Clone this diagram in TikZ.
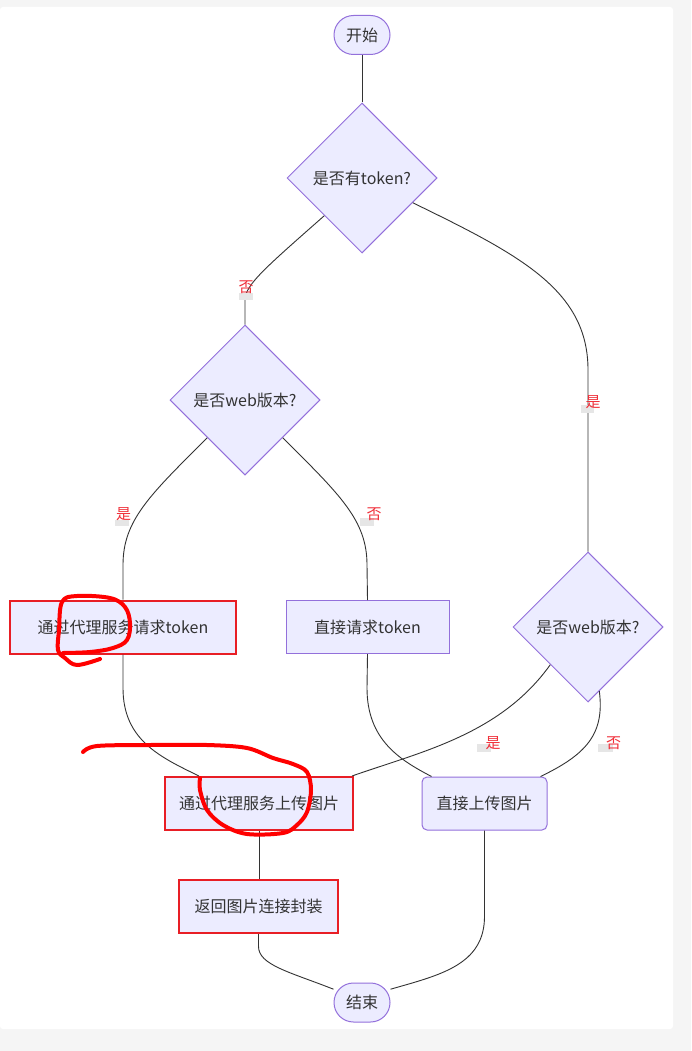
\documentclass[tikz,border=0pt]{standalone}
\usepackage{fontspec}
\setmainfont{Noto Sans CJK SC}
\usetikzlibrary{shapes.geometric}
\definecolor{nfill}{HTML}{ECECFF}
\definecolor{nstroke}{HTML}{9370DB}
\definecolor{redb}{HTML}{E81E25}
\definecolor{txt}{HTML}{333333}
\definecolor{edgec}{HTML}{333333}
\definecolor{lblbg}{HTML}{E6E6E6}
\definecolor{pagebg}{HTML}{F5F5F5}
\definecolor{lblred}{HTML}{F0303A}
\begin{document}
\begin{tikzpicture}[x=1pt,y=-1pt,
  base/.style={fill=nfill, draw=nstroke, line width=1pt, text=txt, font=\fontsize{16}{19}\selectfont, inner sep=0pt},
  term/.style={base, rectangle, rounded corners=19.5pt, minimum width=56pt, minimum height=39pt},
  dec/.style={base, diamond, minimum width=150pt, minimum height=150pt},
  proc/.style={base, rectangle, minimum height=53pt},
  hl/.style={draw=redb, line width=2pt},
  conn/.style={draw=edgec, line width=0.9pt},
  lbl/.style={text=lblred, font=\fontsize{15}{17}\selectfont, inner sep=0pt},
  lblbox/.style={fill=lblbg, draw=none},
  scrib/.style={draw=red, line width=4pt, line cap=round, line join=round}]
% page
\fill[pagebg] (0,0) rectangle (691,1051);
\fill[white, rounded corners=3pt] (0,7) rectangle (673,1029);
\useasboundingbox (0,0) rectangle (691,1051);
% nodes
\node[term] (s) at (362,35) {开始};
\node[dec] (d1) at (362,178) {是否有token?};
\node[dec] (d2) at (245,400) {是否web版本?};
\node[dec] (d3) at (588,627) {是否web版本?};
\node[proc, hl, minimum width=226pt] (b1) at (123,627) {通过代理服务请求token};
\node[proc, minimum width=163pt] (b2) at (367.5,627) {直接请求token};
\node[proc, hl, minimum width=188pt] (b3) at (259,803.5) {通过代理服务上传图片};
\node[proc, rounded corners=5pt, minimum width=125pt] (b4) at (484.5,803.5) {直接上传图片};
\node[proc, hl, minimum width=159pt] (b5) at (258.5,906.5) {返回图片连接封装};
\node[term] (e) at (362,1002.5) {结束};
% connectors
\draw[conn] (s.south) -- (d1.north);
\draw[conn] (d1.south west) .. controls (265,268) and (245,285) .. (245,300) -- (d2.north);
\draw[conn] (d1.-26) .. controls (520,255) and (588,290) .. (588,370) -- (d3.north);
\draw[conn] (d2.south west) .. controls (150,495) and (123,520) .. (123,565) -- (b1.north);
\draw[conn] (d2.south east) .. controls (340,495) and (367,520) .. (367,565) -- (b2.north);
\draw[conn] (b1.south) -- (123,688) .. controls (123,740) and (160,757) .. ([xshift=35pt]b3.north west);
\draw[conn] (b2.south) -- (367,688) .. controls (367,740) and (400,760) .. ([xshift=10pt]b4.north west);
\draw[conn] (d3.south west) .. controls (500,735) and (420,752) .. ([xshift=-2pt]b3.north east);
\draw[conn] (d3.-80) .. controls (605,735) and (585,755) .. ([xshift=-7pt]b4.north east);
\draw[conn] (b3.south) -- (b3.south |- b5.north);
\draw[conn] (b5.south) -- ++(0,12) .. controls (258,965) and (290,972) .. (e.155);
\draw[conn] (b4.south) -- ++(0,85) .. controls (485,965) and (440,975) .. (e.25);
% labels
\fill[lblbox] (239,293) rectangle (253,300);
\node[lbl] (l1) at (246,287) {否};
\fill[lblbox] (581,405) rectangle (594,413);
\node[lbl] (l2) at (593,402) {是};
\fill[lblbox] (115,520) rectangle (129,526);
\node[lbl] (l3) at (123.5,514) {是};
\fill[lblbox] (360,518) rectangle (374,526);
\node[lbl] (l4) at (374,514) {否};
\fill[lblbox] (477,744) rectangle (491,752);
\node[lbl] (l5) at (493,743) {是};
\fill[lblbox] (598,744) rectangle (613,752);
\node[lbl] (l6) at (613.5,743) {否};
% hand-drawn marks
\draw[scrib] plot[smooth, tension=0.6] coordinates {(100,659) (77,665) (65,658) (58,650) (59,630) (62,602) (77,596) (110,598) (125,607) (130,623) (127,640) (113,648) (90,652) (63,653)};
\draw[scrib] plot[smooth, tension=0.55] coordinates {(83,752) (97,746) (150,745) (207,745) (247,748) (273,758) (293,764) (307,772) (311,790) (307,812) (297,825) (283,833) (247,834) (223,825) (207,810) (200,790) (200,778)};
\end{tikzpicture}
\end{document}
